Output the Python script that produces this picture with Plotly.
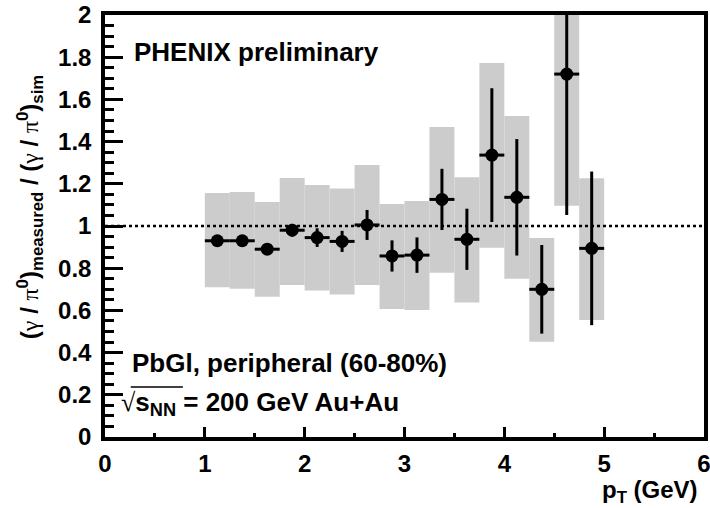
import plotly.graph_objects as go

# ---- data ----
pt = [1.125, 1.375, 1.625, 1.875, 2.125, 2.375, 2.625, 2.875,
      3.125, 3.375, 3.625, 3.875, 4.125, 4.375, 4.625, 4.875]
ratio = [0.930, 0.930, 0.890, 0.980, 0.945, 0.927, 1.005, 0.858,
         0.862, 1.126, 0.937, 1.336, 1.136, 0.700, 1.720, 0.894]
stat_err = [0.020, 0.020, 0.025, 0.030, 0.044, 0.050, 0.071, 0.074,
            0.084, 0.145, 0.145, 0.317, 0.276, 0.210, 0.668, 0.364]
sys_low = [0.710, 0.703, 0.665, 0.720, 0.694, 0.675, 0.720, 0.607,
           0.602, 0.779, 0.637, 0.897, 0.750, 0.452, 1.096, 0.555]
sys_high = [1.156, 1.161, 1.114, 1.227, 1.194, 1.178, 1.289, 1.104,
            1.118, 1.469, 1.231, 1.773, 1.521, 0.943, 2.344, 1.226]
bin_half_width = 0.125
reference_level = 1.0

x_range = [0, 6]
y_range = [0, 2]
x_tickvals = [0, 1, 2, 3, 4, 5, 6]
x_ticktext = ["0", "1", "2", "3", "4", "5", "6"]
y_tickvals = [0, 0.2, 0.4, 0.6, 0.8, 1.0, 1.2, 1.4, 1.6, 1.8, 2.0]
y_ticktext = ["0", "0.2", "0.4", "0.6", "0.8", "1", "1.2", "1.4", "1.6", "1.8", "2"]

FONT = "Liberation Sans"
SERIF = "Liberation Serif"

fig = go.Figure()

# systematic uncertainty boxes
fig.add_trace(go.Bar(
    x=pt,
    y=[h - l for h, l in zip(sys_high, sys_low)],
    base=sys_low,
    width=2 * bin_half_width,
    marker=dict(color="#cccccc", line=dict(width=0)),
    hoverinfo="skip",
    showlegend=False,
))

# data points with statistical errors
fig.add_trace(go.Scatter(
    x=pt, y=ratio, mode="markers",
    marker=dict(color="black", size=13, symbol="circle"),
    error_y=dict(type="data", array=stat_err, visible=True,
                 color="black", thickness=3, width=0),
    error_x=dict(type="constant", value=bin_half_width, visible=True,
                 color="black", thickness=3, width=0),
    showlegend=False,
))

# dotted reference line at 1
fig.add_shape(type="line", xref="x", yref="y",
              x0=x_range[0], x1=x_range[1], y0=reference_level, y1=reference_level,
              line=dict(color="black", width=2.5, dash="3px,3px"), layer="above")

# overline of the square-root sign
fig.add_shape(type="line", xref="paper", yref="paper",
              x0=0.043, x1=0.130, y0=0.1185, y1=0.1185,
              line=dict(color="black", width=1.5), layer="above")

def g(s):
    return f"<span style='font-family:{SERIF};font-weight:normal'>{s}</span>"

ytitle = (f"({g('γ')} / {g('π')}<sup>0</sup>)<sub>measured</sub> / "
          f"({g('γ')} / {g('π')}<sup>0</sup>)<sub>sim</sub>")

annotations = [
    dict(text="PHENIX preliminary", x=0.045, y=0.913, xref="paper", yref="paper",
         xanchor="left", yanchor="middle", showarrow=False,
         font=dict(family=FONT, size=26, color="black", weight="bold")),
    dict(text="PbGl, peripheral (60-80%)", x=0.042, y=0.176, xref="paper", yref="paper",
         xanchor="left", yanchor="middle", showarrow=False,
         font=dict(family=FONT, size=26, color="black", weight="bold")),
    dict(text=f"<span style='font-family:{SERIF};font-weight:normal'>√</span>s<sub>NN</sub> = 200 GeV Au+Au",
         x=0.024, y=0.080, xref="paper", yref="paper",
         xanchor="left", yanchor="middle", showarrow=False,
         font=dict(family=FONT, size=26, color="black", weight="bold")),
    dict(text="p<sub>T</sub> (GeV)", x=0.993, y=-0.128, xref="paper", yref="paper",
         xanchor="right", yanchor="middle", showarrow=False,
         font=dict(family=FONT, size=24, color="black", weight="bold")),
    dict(text=ytitle, x=-0.125, y=0.545, xref="paper", yref="paper",
         xanchor="center", yanchor="middle", showarrow=False, textangle=-90,
         font=dict(family=FONT, size=24, color="black", weight="bold")),
]

fig.update_layout(
    width=710, height=508,
    margin=dict(l=105, r=6, t=15, b=71, autoexpand=False),
    paper_bgcolor="white", plot_bgcolor="white",
    annotations=annotations,
    barmode="overlay",
    font=dict(family=FONT, color="black"),
)

fig.update_xaxes(
    range=x_range, showgrid=False, zeroline=False, automargin=False,
    showline=True, linecolor="black", linewidth=3.5, mirror=True,
    ticks="inside", ticklen=10, tickwidth=2.5, tickcolor="black",
    tickvals=x_tickvals, ticktext=x_ticktext, ticklabeloverflow="allow",
    tickfont=dict(family=FONT, size=24, color="black", weight="bold"),
    minor=dict(dtick=0.5, ticks="inside", ticklen=4, tickwidth=2.5, tickcolor="black", showgrid=False),
    ticklabelstandoff=2,
)
fig.update_yaxes(
    range=y_range, showgrid=False, zeroline=False, automargin=False,
    showline=True, linecolor="black", linewidth=3.5, mirror=True,
    ticks="inside", ticklen=18, tickwidth=2.5, tickcolor="black",
    tickvals=y_tickvals, ticktext=y_ticktext, ticklabeloverflow="allow",
    tickfont=dict(family=FONT, size=24, color="black", weight="bold"),
    minor=dict(dtick=0.05, ticks="inside", ticklen=9, tickwidth=2.5, tickcolor="black", showgrid=False),
    ticklabelstandoff=5,
)

fig.write_html("out.html")
